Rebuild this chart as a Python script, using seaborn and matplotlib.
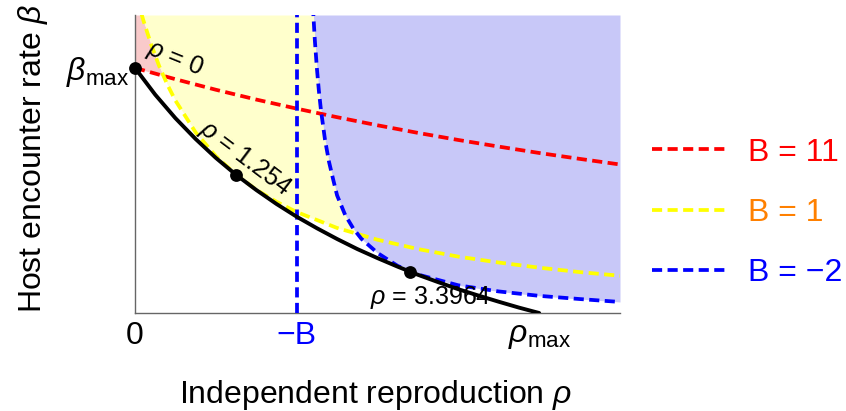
import numpy as np
import matplotlib
matplotlib.use("Agg")
import matplotlib.pyplot as plt
from matplotlib.lines import Line2D
import seaborn as sns

# ---------------- data (beta in units of beta_max) ----------------
rho_black = [0.0, 0.25, 0.5, 0.75, 1.0, 1.25, 1.5, 1.75, 2.0, 2.25, 2.5, 2.75,
             3.0, 3.25, 3.5, 3.75, 4.0, 4.25, 4.5, 4.75, 5.0]
beta_black = [1.000, 0.891, 0.795, 0.710, 0.633, 0.564, 0.502, 0.445, 0.393, 0.346,
              0.302, 0.261, 0.224, 0.189, 0.156, 0.126, 0.097, 0.071, 0.046, 0.022, 0.000]

rho_red = [0.0, 0.5, 1.0, 1.5, 2.0, 2.5, 3.0, 3.5, 4.0, 4.5, 5.0, 5.5, 6.0]
beta_red = [1.000, 0.954, 0.911, 0.871, 0.834, 0.799, 0.766, 0.735, 0.706, 0.679,
            0.653, 0.629, 0.606]

rho_yellow = [0.0, 0.05, 0.1, 0.2, 0.3, 0.4, 0.5, 0.75, 1.0, 1.25, 1.5, 1.75, 2.0,
              2.5, 3.0, 3.5, 4.0, 4.5, 5.0, 5.5, 6.0]
beta_yellow = [1.322, 1.257, 1.198, 1.095, 1.007, 0.932, 0.867, 0.737, 0.640, 0.564,
               0.503, 0.454, 0.412, 0.347, 0.299, 0.261, 0.230, 0.206, 0.185, 0.167, 0.152]

rho_blue = [2.2, 2.225, 2.25, 2.275, 2.3, 2.35, 2.4, 2.45, 2.5, 2.6, 2.7, 2.8, 3.0,
            3.25, 3.5, 4.0, 4.5, 5.0, 5.5, 6.0]
beta_blue = [1.253, 1.112, 0.999, 0.906, 0.829, 0.708, 0.617, 0.547, 0.480, 0.400,
             0.345, 0.303, 0.245, 0.192, 0.157, 0.113, 0.088, 0.070, 0.057, 0.045]
rho_blue_asymptote = 2.0   # rho = -B for B = -2

point_rho = [0.0, 1.254, 3.3964]
point_beta = [1.0, 0.563, 0.167]
point_labels = [r"$\rho$ = 0", r"$\rho$ = 1.254", r"$\rho$ = 3.3964"]

legend_labels = ["B = 11", "B = 1", "B = \u22122"]
x_ticks = [0, 2, 5]
x_tick_labels = ["0", "\u2212B", r"$\rho_{\rm max}$"]
y_ticks = [1.0]
y_tick_labels = [r"$\beta_{\rm max}$"]

RHO_LIM = 6.0
BETA_TOP = 1.216

# ---------------- style ----------------
sns.set_style("white")
plt.rcParams["font.family"] = ["Liberation Sans", "DejaVu Sans"]
plt.rcParams["mathtext.fontset"] = "custom"
plt.rcParams["mathtext.rm"] = "Liberation Sans"
plt.rcParams["mathtext.it"] = "Liberation Sans:italic"
plt.rcParams["mathtext.bf"] = "Liberation Sans:bold"
for k in ("text.color", "axes.labelcolor", "xtick.color", "ytick.color"):
    plt.rcParams[k] = "black"

RED, YEL, BLU = "#FF0000", "#FFFF00", "#0000FF"
PINK_F, YEL_F, BLU_F = "#F9CACA", "#FFFFCC", "#C8C8F8"
DASH = (0, (2.7, 1.45))
FS = 23

fig = plt.figure(figsize=(8.46, 4.11), dpi=100)
ax = fig.add_axes([135 / 846, 98 / 411, 485 / 846, 298 / 411])

# ---------------- regions ----------------
rr = np.linspace(0, RHO_LIM, 2401)
y_red = np.interp(rr, rho_red, beta_red)
y_yel = np.minimum(np.interp(rr, rho_yellow, beta_yellow), BETA_TOP)
y_blu = np.where(rr >= rho_blue[0], np.interp(rr, rho_blue, beta_blue), np.inf)
y_blu = np.minimum(y_blu, BETA_TOP)
y_blu_left = np.where(rr < rho_blue_asymptote, BETA_TOP, y_blu)

ax.fill_between(rr, y_red, y_yel, where=y_yel > y_red, color=PINK_F, lw=0,
                interpolate=True, zorder=0)
ax.fill_between(rr, y_yel, y_blu_left, where=y_blu_left > y_yel, color=YEL_F, lw=0,
                interpolate=True, zorder=0)
ax.fill_between(rr, y_blu, BETA_TOP, where=(rr >= rho_blue[0]), color=BLU_F, lw=0,
                zorder=0)

# ---------------- curves ----------------
lw = 2.7
sns.lineplot(x=rho_red, y=beta_red, ax=ax, color=RED, lw=lw, linestyle=DASH,
             sort=False, estimator=None, zorder=3)
sns.lineplot(x=rho_yellow, y=beta_yellow, ax=ax, color=YEL, lw=lw, linestyle=DASH,
             sort=False, estimator=None, zorder=3)
sns.lineplot(x=rho_blue, y=beta_blue, ax=ax, color=BLU, lw=lw, linestyle=DASH,
             sort=False, estimator=None, zorder=3)
ax.axvline(rho_blue_asymptote, color=BLU, lw=lw, linestyle=DASH, zorder=3)
sns.lineplot(x=rho_black, y=beta_black, ax=ax, color="black", lw=2.8,
             sort=False, estimator=None, zorder=5)
sns.scatterplot(x=point_rho, y=point_beta, ax=ax, color="black", s=85,
                edgecolor="black", linewidth=0, zorder=6, clip_on=False)

# annotations along the trade-off curve
ann_pos = [(0.50, 1.04, -22), (1.36, 0.63, -37), (3.66, 0.062, 0)]
for lab, (x, y, rot) in zip(point_labels, ann_pos):
    ax.text(x, y, lab, fontsize=18, rotation=rot, rotation_mode="anchor",
            ha="center", va="center", color="black", zorder=4)

# ---------------- axes ----------------
ax.set_xlim(0, RHO_LIM)
ax.set_ylim(0, BETA_TOP)
ax.set_xticks(x_ticks, x_tick_labels)
ax.set_yticks(y_ticks, y_tick_labels)
ax.tick_params(axis="both", length=0, labelsize=FS)
ax.tick_params(axis="x", pad=6)
ax.tick_params(axis="y", pad=4)
ax.get_xticklabels()[1].set_color(BLU)
sns.despine(ax=ax)
for s in ("left", "bottom"):
    ax.spines[s].set_color("#666666")
    ax.spines[s].set_linewidth(1.0)

ax.set_xlabel(r"Independent reproduction $\rho$", fontsize=FS)
ax.xaxis.set_label_coords(0.495, -0.302)
ax.xaxis.label.set_va("baseline")
ax.set_ylabel(r"Host encounter rate $\beta$", fontsize=FS)
ax.yaxis.set_label_coords(-0.21, 0.52)
ax.yaxis.label.set_va("center")

# ---------------- legend ----------------
handles = [Line2D([], [], color=c, lw=lw, linestyle=DASH) for c in (RED, YEL, BLU)]
leg = ax.legend(handles, legend_labels, loc="center left",
                bbox_to_anchor=(652 / 846, (411 - 213) / 411),
                bbox_transform=fig.transFigure, frameon=False, fontsize=FS,
                handlelength=2.4, handletextpad=0.6, labelspacing=0.95,
                borderpad=0, borderaxespad=0)
for t, c in zip(leg.get_texts(), (RED, "#FF8000", BLU)):
    t.set_color(c)

fig.savefig("out.png", dpi=100)
